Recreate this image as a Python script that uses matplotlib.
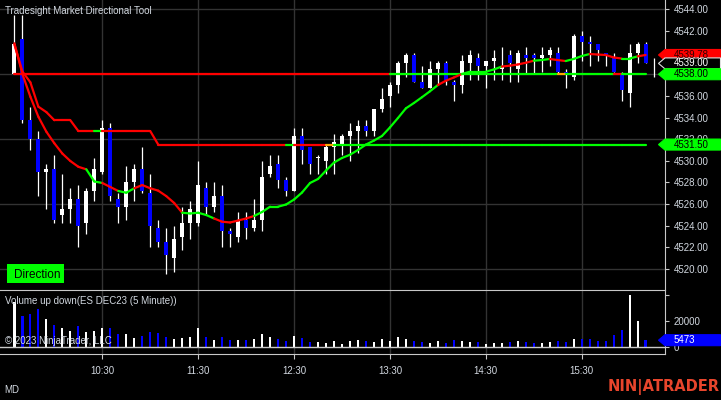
import numpy as np
import pandas as pd
import matplotlib
matplotlib.use('Agg')
import matplotlib.pyplot as plt
from matplotlib.collections import LineCollection
from matplotlib.patches import Polygon, Rectangle

plt.rcParams['font.family'] = ['Liberation Sans', 'DejaVu Sans']

# ES DEC23 5 minute bars, first bar stamped 09:35
bar_start = '2023-10-02 09:35'

opens = [4538.0, 4541.25, 4533.75, 4532.0, 4529.0, 4529.25, 4525.0, 4525.5, 4526.5, 4524.25,
         4527.25, 4529.0, 4533.0, 4526.5, 4525.75, 4528.0, 4529.25, 4527.0, 4523.75, 4522.5,
         4521.0, 4523.0, 4524.25, 4524.25, 4527.5, 4525.75, 4526.75, 4523.5, 4523.0, 4524.5,
         4523.75, 4524.5, 4528.75, 4529.75, 4528.25, 4527.25, 4532.25, 4531.25, 4530.25, 4530.0,
         4531.25, 4531.5, 4532.25, 4532.75, 4533.25, 4532.75, 4534.75, 4536.0, 4537.0, 4539.0,
         4539.75, 4537.25, 4536.75, 4538.5, 4539.0, 4537.25, 4537.0, 4539.0, 4539.5, 4538.75,
         4539.25, 4538.5, 4539.75, 4538.5, 4539.75, 4539.75, 4539.5, 4539.75, 4540.0, 4538.25,
         4537.75, 4541.5, 4541.0, 4540.75, 4540.0, 4539.5, 4538.0, 4536.25, 4540.0, 4540.75]
highs = [4543.5, 4543.5, 4535.0, 4532.75, 4529.75, 4530.5, 4528.75, 4527.5, 4527.75, 4527.5,
         4530.25, 4533.75, 4533.5, 4527.0, 4529.5, 4529.75, 4531.25, 4528.75, 4524.5, 4523.75,
         4524.0, 4525.75, 4526.25, 4530.0, 4528.0, 4528.0, 4527.75, 4523.75, 4525.25, 4525.25,
         4526.5, 4530.0, 4530.5, 4530.5, 4528.5, 4533.0, 4533.0, 4531.25, 4530.5, 4531.5,
         4532.5, 4532.5, 4533.5, 4533.75, 4533.75, 4534.75, 4536.75, 4537.25, 4539.25, 4540.0,
         4540.0, 4538.75, 4539.25, 4539.25, 4539.25, 4537.5, 4539.75, 4540.25, 4540.0, 4539.25,
         4540.25, 4540.5, 4540.25, 4540.25, 4540.5, 4540.0, 4540.5, 4540.5, 4540.5, 4538.5,
         4541.75, 4542.0, 4541.5, 4540.75, 4540.0, 4540.0, 4538.25, 4540.75, 4541.0, 4541.0]
lows = [4538.0, 4533.5, 4531.0, 4526.75, 4525.5, 4524.25, 4524.25, 4524.25, 4522.0, 4523.25,
        4526.25, 4528.75, 4526.25, 4524.25, 4524.5, 4526.25, 4527.0, 4522.0, 4522.0, 4519.5,
        4519.75, 4521.75, 4522.75, 4524.0, 4525.0, 4525.25, 4522.0, 4522.0, 4522.5, 4522.75,
        4523.5, 4523.5, 4528.5, 4527.5, 4526.75, 4527.25, 4529.75, 4528.75, 4528.75, 4528.75,
        4528.75, 4530.5, 4530.0, 4530.75, 4532.25, 4532.25, 4534.5, 4535.0, 4536.25, 4537.75,
        4537.25, 4536.75, 4536.75, 4537.0, 4537.0, 4535.5, 4536.25, 4537.5, 4537.5, 4536.75,
        4537.5, 4537.5, 4537.25, 4537.25, 4538.0, 4538.0, 4538.25, 4538.75, 4538.0, 4536.75,
        4537.5, 4539.25, 4538.75, 4539.25, 4538.75, 4538.25, 4535.5, 4535.0, 4539.0, 4539.0]
closes = [4540.75, 4533.75, 4532.0, 4529.0, 4529.25, 4524.5, 4525.5, 4526.5, 4524.0, 4527.25,
          4529.25, 4533.0, 4526.75, 4525.75, 4528.0, 4529.25, 4527.25, 4524.0, 4522.5, 4521.25,
          4522.75, 4524.25, 4525.5, 4527.75, 4525.75, 4526.75, 4523.5, 4523.25, 4524.5, 4523.75,
          4524.5, 4528.5, 4529.5, 4528.25, 4527.25, 4532.25, 4531.0, 4529.75, 4530.25, 4531.25,
          4531.75, 4532.25, 4532.75, 4533.25, 4532.75, 4534.75, 4535.75, 4537.0, 4539.0, 4539.75,
          4537.25, 4536.75, 4538.5, 4539.0, 4537.5, 4537.0, 4539.25, 4539.75, 4538.75, 4539.25,
          4539.5, 4538.75, 4539.0, 4540.0, 4539.5, 4539.5, 4539.75, 4540.25, 4538.25, 4538.0,
          4541.5, 4541.0, 4540.75, 4540.25, 4539.75, 4538.25, 4536.5, 4540.0, 4540.75, 4539.0]
volumes = [35000, 24100, 25600, 29500, 22000, 17400, 15100, 12500, 16400, 11800,
           12500, 14800, 14800, 10200, 10200, 7400, 8700, 11800, 11200, 8200,
           6600, 7400, 8200, 14800, 8200, 5800, 8200, 5800, 5800, 5800,
           6600, 10200, 8200, 6600, 5100, 8900, 7400, 4300, 4300, 3500,
           5100, 2800, 5100, 5800, 5000, 4300, 6500, 5000, 8100, 6500,
           5000, 4300, 3500, 5000, 3500, 5800, 5000, 4300, 4300, 2700,
           3500, 3500, 4300, 5000, 4300, 3500, 3500, 4300, 5000, 4300,
           6500, 6500, 6500, 5000, 5000, 9600, 13400, 40500, 20200, 5473]
# bar still forming at the right edge (high, low)
forming_bar = (4539.5, 4537.75)

# directional tool: smoothed average, trailing level and opening level
ma_line = [4540.86, 4538.02, 4535.92, 4534.07, 4532.69, 4531.62, 4530.67, 4529.98, 4529.45, 4529.21,
           4528.09, 4527.95, 4527.58, 4527.21, 4527.05, 4527.46, 4527.76, 4527.46, 4527.24, 4526.74,
           4526.10, 4525.20, 4525.13, 4525.20, 4524.99, 4524.67, 4524.37, 4524.30, 4524.48, 4524.67,
           4524.90, 4525.27, 4525.76, 4525.76, 4525.96, 4526.42, 4527.07, 4527.95, 4528.32, 4529.10,
           4529.84, 4530.26, 4530.56, 4531.00, 4531.50, 4531.87, 4532.29, 4533.08, 4533.95, 4534.85,
           4535.34, 4535.87, 4536.42, 4537.00, 4537.40, 4537.70, 4538.02, 4538.23, 4538.23, 4538.23,
           4538.44, 4538.71, 4538.79, 4538.90, 4539.06, 4539.25, 4539.31, 4539.41, 4539.31, 4539.22,
           4539.41, 4539.68, 4539.87, 4539.82, 4539.78, 4539.55, 4539.45, 4539.45, 4539.65, 4539.78]
ma_dir = ('rrrrrrrrr' 'gg' 'rr' 'gg' 'rrrrrr' 'gggg' 'rrrrr' 'ggggggggggggggggggggggg'
          'rrr' 'ggggg' 'rrrr' 'gg' 'rr' 'ggg' 'rrrr' 'gg' 'r')
stop_line = [4540.75, 4538.25, 4537.25, 4535.0, 4534.5, 4533.75, 4533.75, 4533.75, 4532.75, 4532.75,
             4532.75, 4532.75, 4532.75, 4532.75, 4532.75, 4532.75, 4532.75, 4532.75, 4531.5, 4531.5,
             4531.5, 4531.5, 4531.5, 4531.5, 4531.5, 4531.5, 4531.5, 4531.5, 4531.5, 4531.5,
             4531.5, 4531.5, 4531.5, 4531.5, 4531.5, 4531.5, 4531.5, 4531.5, 4531.5, 4531.5,
             4531.5, 4531.5, 4531.5, 4531.5, 4531.5, 4531.5, 4531.5, 4531.5, 4531.5, 4531.5,
             4531.5, 4531.5, 4531.5, 4531.5, 4531.5, 4531.5, 4531.5, 4531.5, 4531.5, 4531.5,
             4531.5, 4531.5, 4531.5, 4531.5, 4531.5, 4531.5, 4531.5, 4531.5, 4531.5, 4531.5,
             4531.5, 4531.5, 4531.5, 4531.5, 4531.5, 4531.5, 4531.5, 4531.5, 4531.5, 4531.5]
stop_dir = 'r' * 10 + 'g' + 'r' * 23 + 'g' + 'rrrr' + 'o' + 'g' * 39
open_level = 4538.0
level_dir = 'r' * 47 + 'g' * 21 + 'o' + 'g' * 6 + 'r' + 'ggg'

W, H = 721, 400
BG = 'black'
TXT = '#d2d8e0'
BORDER = '#c8c8c8'
GRID = '#333333'
UP, DOWN = 'white', '#0000ff'
seg_colors = {'r': '#ff0000', 'g': '#00ff00', 'o': '#ffa500'}

times = pd.date_range(bar_start, periods=len(closes), freq='5min')
x = np.arange(len(closes))
o, hi, lo, c = (np.array(v) for v in (opens, highs, lows, closes))
up = c >= o
half_hours = x[times.minute == 30]

fig = plt.figure(figsize=(W / 100, H / 100), dpi=100, facecolor=BG)
ax = fig.add_axes([0, 110 / H, 665 / W, 290 / H], facecolor=BG)
axv = fig.add_axes([0, 46 / H, 665 / W, 64 / H], facecolor=BG)

xlim = (-14.4 / 7.99, (665 - 14.4) / 7.99)
ax.set_xlim(xlim)
axv.set_xlim(xlim)
ax.set_ylim(4518.06, 4544.86)
axv.set_ylim(-5150, 44080)

# grid
for a in (ax, axv):
    for xv in half_hours:
        a.axvline(xv, color=GRID, lw=1, zorder=0)
for yv in range(4520, 4545, 6):
    ax.axhline(yv, color=GRID, lw=1, zorder=0)

# candles
ax.vlines(x, lo, hi, color='white', lw=0.9, zorder=2)
ax.bar(x, np.maximum(np.abs(c - o), 0.08), bottom=np.minimum(o, c), width=0.5,
       color=np.where(up, UP, DOWN), linewidth=0, zorder=3)
ax.vlines(len(x), forming_bar[1], forming_bar[0], color='white', lw=0.9, zorder=2)


def seg_line(a, ys, codes):
    pts = np.column_stack([x, ys])
    segs = np.stack([pts[:-1], pts[1:]], axis=1)
    lc = LineCollection(segs, colors=[seg_colors[ch] for ch in codes],
                        linewidths=1.6, capstyle='round', zorder=4)
    a.add_collection(lc)


seg_line(ax, np.full(len(x), open_level), level_dir)
seg_line(ax, stop_line, stop_dir)
seg_line(ax, ma_line, ma_dir)

# price axis (4540 and 4538 sit under the value tags)
ax.yaxis.tick_right()
price_ticks = np.arange(4520, 4545, 2)
ax.set_yticks(price_ticks)
ax.set_yticklabels(['' if v in (4538, 4540) else f'{v:.2f}' for v in price_ticks])
ax.tick_params(axis='y', colors=BORDER, labelcolor=TXT, labelsize=7, length=3, width=0.8, pad=3)
ax.tick_params(axis='x', bottom=False, labelbottom=False)
for s in ('left', 'top', 'bottom'):
    ax.spines[s].set_visible(False)
ax.spines['right'].set_color(BORDER)

# volume panel
axv.bar(x, volumes, width=0.28, color=np.where(up, UP, DOWN), linewidth=0, zorder=2)
axv.axhline(0, color=BORDER, lw=1, zorder=3)
axv.yaxis.tick_right()
axv.set_yticks([0, 20000, 40000])
axv.set_yticklabels(['0', '20000', ''])
axv.set_xticks(half_hours)
axv.set_xticklabels(times[half_hours].strftime('%H:%M'))
axv.tick_params(colors=BORDER, labelcolor=TXT, labelsize=7, length=3.6, width=0.8)
axv.tick_params(axis='x', pad=5)
axv.tick_params(axis='y', length=3, pad=3)
axv.spines['left'].set_visible(False)
for s in ('top', 'bottom', 'right'):
    axv.spines[s].set_color(BORDER)


def tag(a, value, text, fc, tc, ec=None):
    ypx = a.transData.transform((0, value))[1]
    xs = np.array([658.5, 665, 720.5, 720.5, 665]) / W
    ys = np.array([ypx, ypx + 5.5, ypx + 5.5, ypx - 5.5, ypx - 5.5]) / H
    fig.add_artist(Polygon(np.column_stack([xs, ys]), closed=True, transform=fig.transFigure,
                           fc=fc, ec=ec or fc, lw=0.8, zorder=5))
    fig.text(674 / W, ypx / H, text, color=tc, fontsize=7, va='center', ha='left', zorder=6)


tag(ax, ma_line[-1], f'{ma_line[-1]:.2f}', '#ff0000', '#300000')
tag(ax, closes[-1], f'{closes[-1]:.2f}', 'black', 'white', ec='#e0e0e0')
tag(ax, open_level, f'{open_level:.2f}', '#00ff00', 'black')
tag(ax, stop_line[-1], f'{stop_line[-1]:.2f}', '#00ff00', 'black')
tag(axv, volumes[-1], f'{volumes[-1]}', '#0000ff', 'white')

# labels
fig.text(5 / W, 1 - 13.5 / H, 'Tradesight Market Directional Tool', fontsize=7, color=TXT, va='baseline')
fig.add_artist(Rectangle((7.3 / W, 1 - 283 / H), 56.7 / W, 18.7 / H, transform=fig.transFigure,
                         fc='#00ff00', ec='none', zorder=5))
fig.text(37.3 / W, 1 - 278.5 / H, 'Direction', fontsize=8.5, color='black', ha='center', va='baseline', zorder=6)
fig.text(5 / W, 1 - 303.7 / H, 'Volume up down(ES DEC23 (5 Minute))', fontsize=7, color=TXT, va='baseline')
fig.text(5 / W, 1 - 343.5 / H, '© 2023 NinjaTrader, LLC', fontsize=7, color=TXT, va='baseline')
fig.text(4.5 / W, 1 - 393.3 / H, 'MD', fontsize=7, color=TXT, va='baseline')
fig.text(720 / W, 1 - 391.3 / H, 'NIN|ATRADER', fontsize=10.5, color='#e8452c', fontweight='bold',
         family='DejaVu Sans', ha='right', va='baseline')

fig.savefig('out.png', dpi=100, facecolor=BG)
